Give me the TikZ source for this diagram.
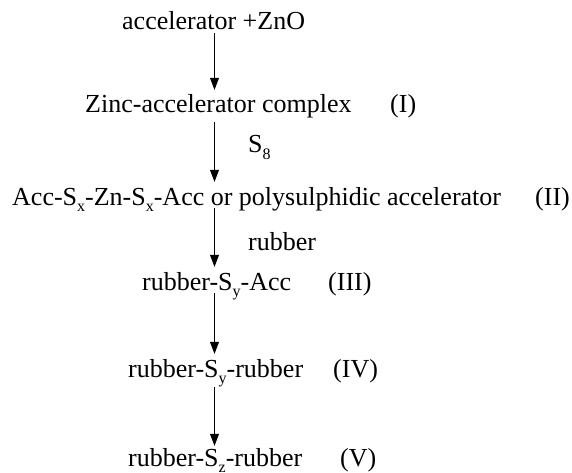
\documentclass[tikz,border=0pt]{standalone}
\usepackage{fontspec}
\setmainfont{Liberation Serif}
\usetikzlibrary{arrows.meta}
\newcommand\lowsub[1]{\raisebox{-0.25em}{\fontsize{16}{16}\selectfont #1}}
\begin{document}
\begin{tikzpicture}[x=1pt,y=-1pt,
  every node/.style={font=\fontsize{26}{30}\selectfont},
  txt/.style={anchor=base west, inner sep=0pt, text height=19pt, text depth=3pt},
  lbl/.style={anchor=base west, inner sep=0pt},
  arr/.style={-{Triangle[width=9pt,length=12pt]}, line width=0.8pt, shorten >=4pt}]
\useasboundingbox (0,0) rectangle (572,473);
\coordinate (ax) at (214.5,0);
\node[txt] (t0) at (122,30) {accelerator +ZnO};
\node[txt] (t1) at (85,113) {Zinc-accelerator complex};
\node[lbl] (l1) at (390,113) {(I)};
\node[txt] (t2) at (12,205) {Acc-S\lowsub{x}-Zn-S\lowsub{x}-Acc or polysulphidic accelerator};
\node[lbl] (l2) at (535,205) {(II)};
\node[txt] (t3) at (142,290) {rubber-S\lowsub{y}-Acc};
\node[lbl] (l3) at (328,290) {(III)};
\node[txt] (t4) at (128,377) {rubber-S\lowsub{y}-rubber};
\node[lbl] (l4) at (333,377) {(IV)};
\node[txt] (t5) at (128,466) {rubber-S\lowsub{z}-rubber};
\node[lbl] (l5) at (340,466) {(V)};
\node[lbl] (s8) at (248,153) {S\lowsub{8}};
\node[lbl] (rb) at (248,250) {rubber};
\draw[arr] (t0.south -| ax) -- (t1.north -| ax);
\draw[arr, shorten <=6pt] (t1.south -| ax) -- (t2.north -| ax);
\draw[arr] (t2.south -| ax) -- (t3.north -| ax);
\draw[arr] (t3.south -| ax) -- (t4.north -| ax);
\draw[arr, shorten <=7pt, shorten >=1pt] (t4.south -| ax) -- (t5.north -| ax);
\end{tikzpicture}
\end{document}
